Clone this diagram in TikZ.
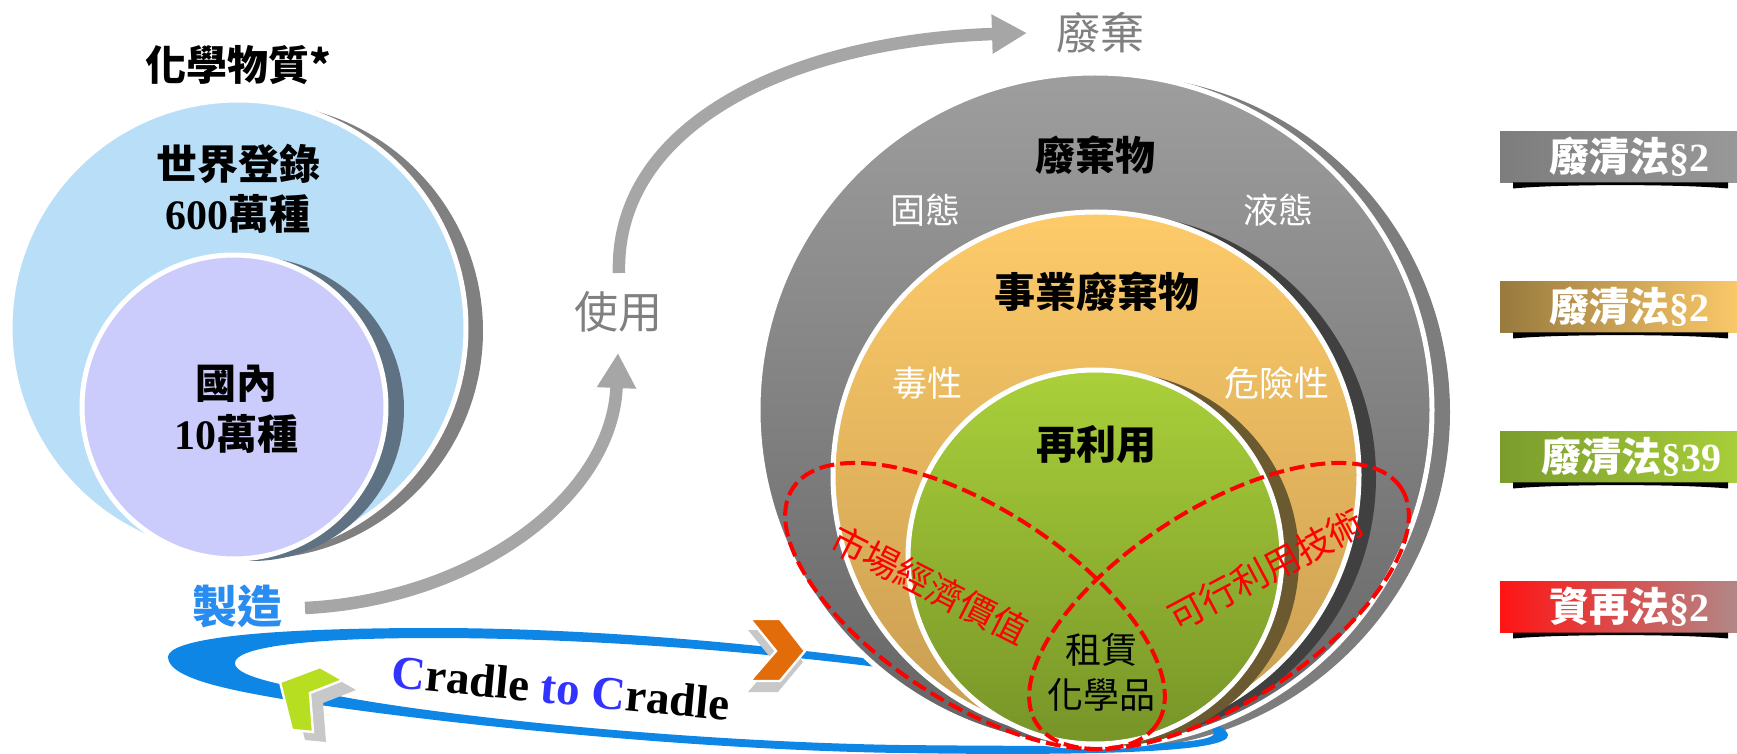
\documentclass[tikz,border=0pt]{standalone}
\usepackage{fontspec}
\setmainfont{Liberation Serif}
\newfontfamily\cjk{Noto Sans CJK TC}
\usetikzlibrary{arrows.meta,shapes.geometric,calc}
\newcommand\myfs[1]{\fontsize{#1}{#1}\selectfont}
\definecolor{ablue}{RGB}{184,222,248}
\definecolor{apurple}{RGB}{204,204,252}
\definecolor{ashadow}{RGB}{128,128,128}
\definecolor{pshadow}{RGB}{95,114,132}
\definecolor{ringblue}{RGB}{14,134,230}
\definecolor{zzblue}{RGB}{40,140,240}
\definecolor{arrowgray}{RGB}{166,166,166}
\definecolor{txtgray}{RGB}{128,128,128}
\definecolor{gtop}{RGB}{158,158,158}
\definecolor{gbot}{RGB}{100,100,100}
\definecolor{gshadow}{RGB}{125,125,125}
\definecolor{otop}{RGB}{254,203,106}
\definecolor{obot}{RGB}{198,156,80}
\definecolor{oshadow}{RGB}{64,64,64}
\definecolor{grtop}{RGB}{170,208,58}
\definecolor{grbot}{RGB}{118,148,40}
\definecolor{grshadow}{RGB}{107,90,48}
\definecolor{orangech}{RGB}{227,108,10}
\definecolor{greench}{RGB}{184,222,33}
\definecolor{chshadow}{RGB}{200,200,200}
\definecolor{ctoc}{RGB}{51,51,255}
\definecolor{b1l}{RGB}{125,125,125}
\definecolor{b1r}{RGB}{152,152,152}
\definecolor{b2l}{RGB}{152,122,62}
\definecolor{b2r}{RGB}{250,200,105}
\definecolor{b3l}{RGB}{122,156,44}
\definecolor{b3r}{RGB}{168,206,58}
\definecolor{b4l}{RGB}{255,20,20}
\definecolor{b4r}{RGB}{178,135,135}
\begin{document}
\begin{tikzpicture}[x=0.5pt,y=-0.5pt,
  every node/.style={inner sep=0pt,outer sep=0pt},
  disc/.style={circle,draw=white,line width=2.5pt},
  shadowdisc/.style={circle,draw=none},
  cjkbold/.style={font=\cjk\bfseries\myfs{20.5pt}},
  softtext/.style={font=\cjk\myfs{17.5pt},text=white},
  flow/.style={line width=6.25pt,draw=arrowgray,-{Triangle[width=18.5pt,length=17.5pt]}},
  reddash/.style={ellipse,draw=red,line width=2pt,dash pattern=on 7.5pt off 3pt},
  redtext/.style={font=\cjk\myfs{18pt},text=red},
  banner/.style={rectangle,minimum width=118.5pt,minimum height=25.5pt},
  bannertext/.style={font=\bfseries\myfs{20pt},text=white},
  chev/.style={draw=white,line width=1.2pt}
]
\useasboundingbox (0,0) rectangle (1737,754);

% ---------- left circles ----------
\node[shadowdisc,fill=ashadow,minimum size=228pt] (bluesh) at (255,331) {};
\node[disc,fill=ablue,minimum size=228pt] (blue) at (238,328) {};
\node[shadowdisc,fill=pshadow,minimum size=152pt] (purplesh) at (252,409) {};
\node[disc,fill=apurple,minimum size=152pt] (purple) at (234,407) {};

\node[cjkbold] (title) at (238,65) {化學物質*};
\node[cjkbold] (world) at (238,164) {世界登錄};
\node[font=\bfseries\myfs{21pt}] (w600) at (238,214) {600{\cjk\bfseries\myfs{20.5pt}萬種}};
\node[cjkbold] (dom) at (236,384) {國內};
\node[font=\bfseries\myfs{21pt}] (d10) at (236,434) {10{\cjk\bfseries\myfs{20.5pt}萬種}};

% ---------- big circle shadow + ring ----------
\node[shadowdisc,fill=gshadow,minimum size=337pt] (graysh) at (1113,412) {};

\fill[ringblue,even odd rule]
  (168,657) .. controls (168,640) and (250,628) .. (433,628)
  .. controls (600,628) and (780,646) .. (900,663)
  .. controls (1050,683) and (1225,712) .. (1228,735)
  .. controls (1230,752) and (1100,756) .. (900,753)
  .. controls (700,750) and (450,725) .. (300,702)
  .. controls (240,692) and (168,680) .. (168,657) -- cycle
  (235,663) .. controls (235,648) and (300,638) .. (433,638)
  .. controls (600,638) and (780,654) .. (900,670)
  .. controls (1050,690) and (1212,714) .. (1214,733)
  .. controls (1215,746) and (1100,747) .. (900,745)
  .. controls (700,742) and (450,718) .. (333,695)
  .. controls (270,683) and (235,675) .. (235,663) -- cycle;

% chevrons
\fill[chshadow,shift={(-2,11)}] (750,619) -- (780,619) -- (805,651) -- (780,681) -- (750,681) -- (776,651) -- cycle;
\filldraw[fill=orangech,chev] (750,619) -- (780,619) -- (805,651) -- (780,681) -- (750,681) -- (776,651) -- cycle;
\fill[chshadow,shift={(13,10)}] (280,682) -- (320,667) -- (343,680) -- (310,693) -- (313,732) -- (292,730) -- cycle;
\filldraw[fill=greench,chev] (280,682) -- (320,667) -- (343,680) -- (310,693) -- (313,732) -- (292,730) -- cycle;

\node[rotate=-5.5,font=\bfseries\myfs{23.5pt}] (c2c) at (561,688) {\textcolor{ctoc}{C}radle \textcolor{ctoc}{to C}radle};

% ---------- nested circles ----------
\node[disc,top color=gtop,bottom color=gbot,minimum size=337pt] (gray) at (1095,410) {};
\node[shadowdisc,fill=oshadow,minimum size=263pt] (orangesh) at (1113,477) {};
\node[disc,top color=otop,bottom color=obot,minimum size=263pt] (orange) at (1096,475) {};
\node[shadowdisc,fill=grshadow,minimum size=187pt] (greensh) at (1112,559) {};
\node[disc,top color=grtop,bottom color=grbot,minimum size=187pt] (green) at (1095,557) {};

\node[font=\cjk\bfseries\myfs{20pt}] (wst) at (1095,155) {廢棄物};
\node[softtext] (solid) at (925,210) {固態};
\node[softtext] (liquid) at (1278,210) {液態};
\node[cjkbold] (bizw) at (1097,292) {事業廢棄物};
\node[softtext] (tox) at (927,383) {毒性};
\node[softtext] (haz) at (1277,383) {危險性};
\node[font=\cjk\bfseries\myfs{20pt}] (reuse) at (1096,444) {再利用};
\node[font=\cjk\myfs{18pt}] (lease1) at (1101,650) {租賃};
\node[font=\cjk\myfs{18pt}] (lease2) at (1101,695) {化學品};

\node[reddash,minimum width=217pt,minimum height=97pt,rotate=-32.8] (mkt) at (975,606) {};
\node[reddash,minimum width=217pt,minimum height=97pt,rotate=32.8] (tech) at (1219,606) {};
\node[redtext,rotate=-27] (mkttext) at (930,585) {市場經濟價值};
\node[redtext,rotate=28] (techtext) at (1266,570) {可行利用技術};

% ---------- flow arrows ----------
\node[font=\cjk\myfs{22pt},text=txtgray] (use) at (618,312) {使用};
\node[font=\cjk\bfseries\myfs{22.5pt},text=zzblue] (make) at (237,607) {製造};
\node[font=\cjk\myfs{22pt},text=txtgray] (waste) at (1100,33) {廢棄};
\coordinate (a1s) at (305,608);
\coordinate (a1e) at (618,353);
\coordinate (a2s) at (619,273);
\coordinate (a2e) at (1027,33);
\draw[flow] (a1s) .. controls (470,600) and (612,500) .. (a1e);
\draw[flow] (a2s) .. controls (615,120) and (800,40) .. (a2e);

% ---------- banners ----------
\node[banner,left color=b1l,right color=b1r] (ban1) at (1618.5,157) {};
\node[banner,left color=b2l,right color=b2r] (ban2) at (1618.5,307) {};
\node[banner,left color=b3l,right color=b3r] (ban3) at (1618.5,457) {};
\node[banner,left color=b4l,right color=b4r] (ban4) at (1618.5,607) {};
\foreach \b in {ban1,ban2,ban3,ban4}{
  \fill[black] ($(\b.south west)+(13,0)$) -- ($(\b.south east)+(-9,0)$) -- ($(\b.south east)+(-9,6)$)
    .. controls ($(\b.south east)+(-57,1.5)$) and ($(\b.south west)+(60,1.5)$) .. ($(\b.south west)+(13,6)$) -- cycle;
}
\node[bannertext] (t1) at (1629,157) {{\cjk\bfseries 廢清法}§2};
\node[bannertext] (t2) at (1629,307) {{\cjk\bfseries 廢清法}§2};
\node[bannertext] (t3) at (1631,457) {{\cjk\bfseries 廢清法}§39};
\node[bannertext] (t4) at (1629,607) {{\cjk\bfseries 資再法}§2};
\end{tikzpicture}
\end{document}
